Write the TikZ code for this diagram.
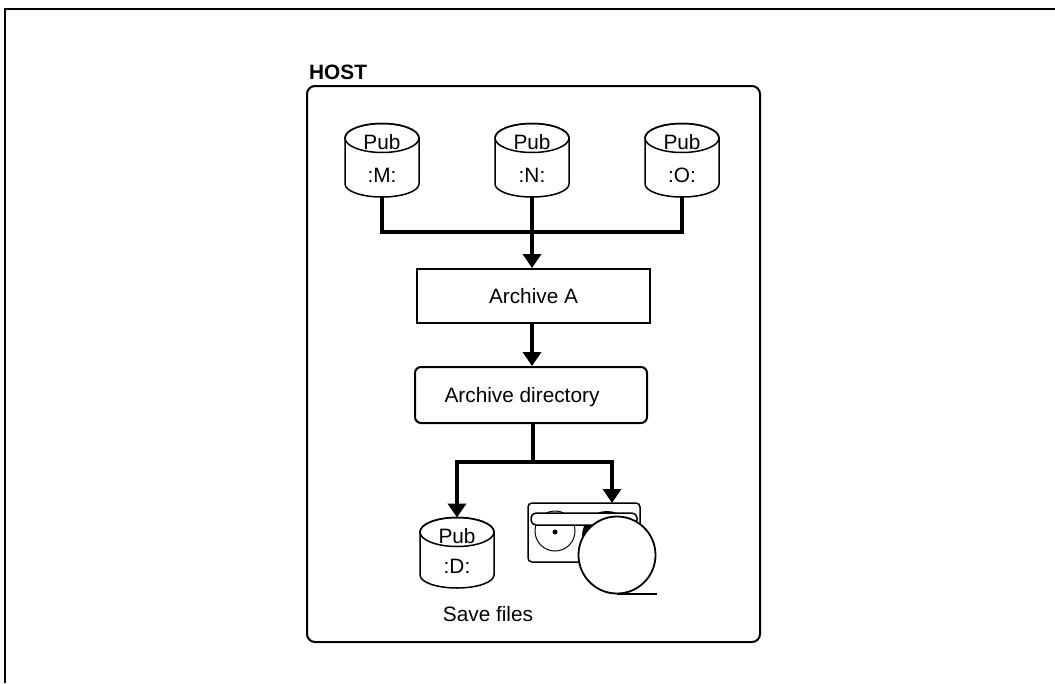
\documentclass[tikz,border=0pt]{standalone}
\usepackage{fontspec}
\setmainfont{Liberation Sans}
\usetikzlibrary{arrows.meta}
\newcommand\pubcyl[5]{%
  \draw[cyl, fill=white] (#2-37,#3) -- (#2-37,#4)
    arc[start angle=180,end angle=360,x radius=37pt,y radius=13pt]
    -- (#2+37,#3)
    arc[start angle=0,end angle=180,x radius=37pt,y radius=14.5pt] -- cycle;
  \draw[cyl] (#2,#3) ellipse[x radius=37pt, y radius=14.5pt];
  \node[inner sep=0pt, outer sep=0pt, minimum width=74pt, minimum height={#4-#3+27.5}] (#1) at (#2,{(#3+#4)/2-0.75}) {};
  \node[txt] (#1pub) at (#2,#3+3.5) {Pub};
  \node[txt] (#1lbl) at (#2,#4-9) {#5};
}
\begin{document}
\begin{tikzpicture}[x=1pt,y=-1pt,
  txt/.style={font=\fontsize{20.8pt}{24pt}\selectfont, inner sep=0pt, text height=15pt, text depth=0pt},
  hostbox/.style={draw, line width=2pt, rounded corners=8pt, inner sep=0pt},
  box/.style={draw, line width=2pt, txt},
  conn/.style={line width=4pt},
  arr/.style={conn, -{Triangle[length=14pt,width=18pt]}},
  cyl/.style={line width=1.5pt}]
\useasboundingbox (0,0) rectangle (1055,683);
% outer frame
\draw[line width=1.3pt] (5,683) -- (5,9) -- (1055,9);
% host
\node[hostbox, minimum width=453pt, minimum height=556pt] (host) at (533.5,364) {};
\node[txt, anchor=west] (hostlbl) at (309,72) {\bfseries HOST};
% cylinders
\pubcyl{m}{382}{138}{184}{:M:}
\pubcyl{n}{532}{138}{184}{:N:}
\pubcyl{o}{682}{138}{184}{:O:}
\pubcyl{d}{457}{532}{575}{:D:}
% boxes
\node[box, minimum width=233pt, minimum height=54pt] (a) at (533.5,296) {Archive A};
\node[box, rounded corners=6pt, minimum width=232pt, minimum height=56pt] (dir) at (531,395) {Archive directory\hspace*{18pt}};
% connectors top
\coordinate (j1) at (532,232);
\draw[conn] (m.south) |- (j1) -| (o.south);
\draw[arr] (n.south) -- (n.south |- a.north);
\draw[arr] (n.south |- a.south) -- (n.south |- dir.north);
% tape drive
\node[draw, line width=1.5pt, rounded corners=4pt, minimum width=112pt, minimum height=59pt, inner sep=0pt] (tape) at (584,532.5) {};
\fill (607,536) circle[radius=25pt];
\draw[line width=1pt] (555,531) circle[radius=20pt];
\fill (555,532) circle[radius=2.5pt];
\draw[line width=1.5pt, fill=white, rounded corners=5pt] (531,513) rectangle (637,525);
\draw[line width=1.8pt, fill=white] (617,555) circle[radius=38.5pt];
\draw[line width=2pt] (617,593.5) -- (657,593.5);
% connectors bottom
\coordinate (j2) at (533,462);
\coordinate (tin) at (612,503);
\draw[conn] (j2 |- dir.south) -- ([yshift=2pt]j2);
\draw[arr] (j2) -| (d.north);
\draw[arr] (j2) -| (tin);
% caption
\node[txt] (save) at (488,614) {Save files};
\end{tikzpicture}
\end{document}
